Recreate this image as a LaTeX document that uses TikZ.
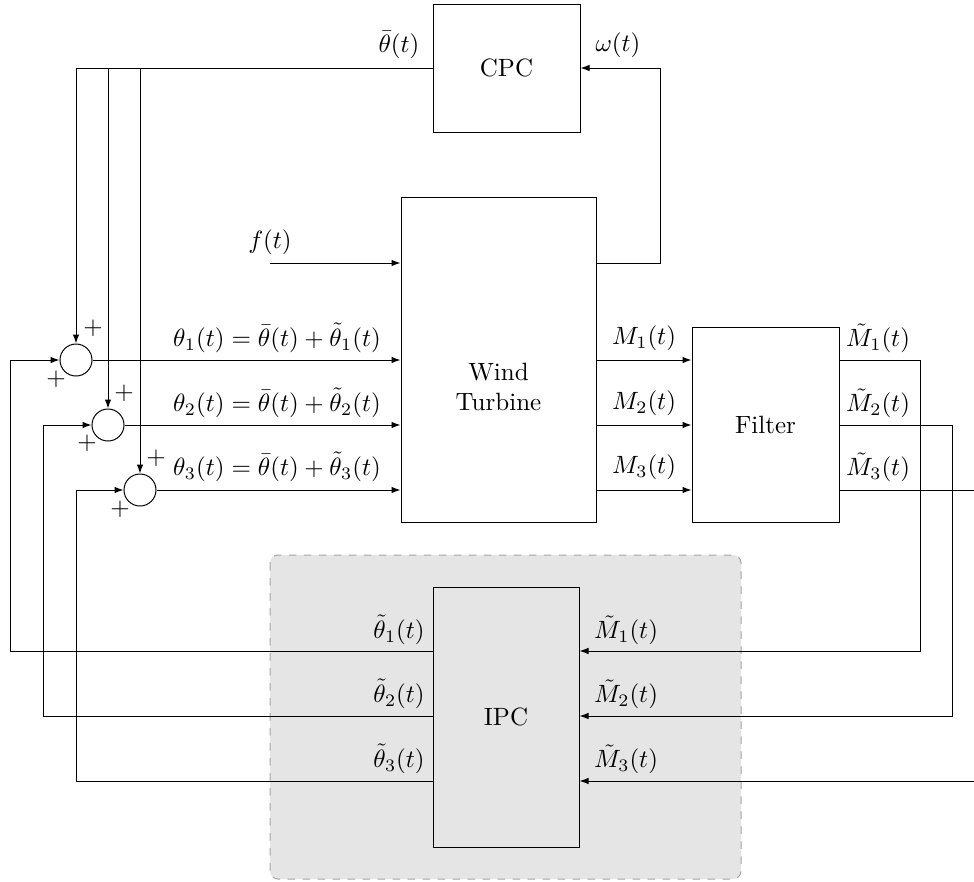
\documentclass[tikz,border=0pt]{standalone}
\usetikzlibrary{arrows.meta}
\begin{document}
\begin{tikzpicture}[x=0.4pt,y=-0.4pt,
  blk/.style={draw, inner sep=0pt},
  sumnode/.style={draw, circle, minimum size=12.8pt, inner sep=0pt},
  arr/.style={-{Latex[length=3.6pt,width=2.6pt]}},
  lbl/.style={inner sep=0pt},
  bgbox/.style={fill=black!10, draw=black!35, dashed, rounded corners=3.2pt}]
\useasboundingbox (0,0) rectangle (974,881);
% background of IPC
\path[bgbox] (270,555) rectangle (741,879);
% blocks
\node[blk, minimum width=58.8pt, minimum height=51.2pt] (cpc) at (506.5,68) {CPC};
\node[blk, minimum width=78pt, minimum height=130pt] (wt) at (498.5,359.5) {};
\node[lbl, align=center] (wtl) at (498.5,387) {Wind\\Turbine};
\node[blk, minimum width=58.8pt, minimum height=78pt] (flt) at (765.5,424.5) {Filter};
\node[blk, fill=black!10, minimum width=58.4pt, minimum height=104pt] (ipc) at (506,717) {IPC};
% sums
\node[sumnode] (s1) at (76,360) {};
\node[sumnode] (s2) at (108,425) {};
\node[sumnode] (s3) at (140,490) {};
% coordinates
\coordinate (fin) at (270,263);
\coordinate (wr) at (660,263);
\coordinate (e1) at (920,360);
\coordinate (e2) at (952,425);
\coordinate (e3) at (974,490);
\coordinate (e3b) at (974,781);
\coordinate (l1) at (10,651);
\coordinate (l2) at (43,716);
\coordinate (l3) at (76,781);
% CPC to sums
\draw[arr] (cpc.west) -| (s1.north);
\draw[arr] (cpc.west) -| (s2.north);
\draw[arr] (cpc.west) -| (s3.north);
% omega feedback
\draw[arr] (wt.east |- wr) -- (wr) |- (cpc.east);
% f(t)
\draw[arr] (fin) -- (fin -| wt.west);
% sums to WT
\draw[arr] (s1.east) -- (s1 -| wt.west);
\draw[arr] (s2.east) -- (s2 -| wt.west);
\draw[arr] (s3.east) -- (s3 -| wt.west);
% WT to filter
\draw[arr] (wt.east |- s1) -- (flt.west |- s1);
\draw[arr] (wt.east |- s2) -- (flt.west |- s2);
\draw[arr] (wt.east |- s3) -- (flt.west |- s3);
% filter to IPC
\draw[arr] (flt.east |- e1) -- (e1) |- (ipc.east |- l1);
\draw[arr] (flt.east |- e2) -- (e2) |- (ipc.east |- l2);
\draw (flt.east |- e3) -- (e3);
\draw[arr] (e3b) -- (ipc.east |- e3b);
% IPC to sums
\draw[arr] (ipc.west |- l1) -- (l1) |- (s1.west);
\draw[arr] (ipc.west |- l2) -- (l2) |- (s2.west);
\draw[arr] (ipc.west |- l3) -- (l3) |- (s3.west);
% labels
\node[lbl] (lthb) at (399,45) {$\bar{\theta}(t)$};
\node[lbl] (lom) at (618,45) {$\omega(t)$};
\node[lbl] (lf) at (270,242) {$f(t)$};
\node[lbl] (lt1) at (277,338) {$\theta_1(t) = \bar{\theta}(t) + \tilde{\theta}_1(t)$};
\node[lbl] (lt2) at (277,403) {$\theta_2(t) = \bar{\theta}(t) + \tilde{\theta}_2(t)$};
\node[lbl] (lt3) at (277,467) {$\theta_3(t) = \bar{\theta}(t) + \tilde{\theta}_3(t)$};
\node[lbl] (lm1) at (644,338) {$M_1(t)$};
\node[lbl] (lm2) at (644,403) {$M_2(t)$};
\node[lbl] (lm3) at (644,467) {$M_3(t)$};
\node[lbl] (lmt1) at (878,338) {$\tilde{M}_1(t)$};
\node[lbl] (lmt2) at (878,403) {$\tilde{M}_2(t)$};
\node[lbl] (lmt3) at (878,467) {$\tilde{M}_3(t)$};
\node[lbl] (lit1) at (399,630) {$\tilde{\theta}_1(t)$};
\node[lbl] (lit2) at (399,694) {$\tilde{\theta}_2(t)$};
\node[lbl] (lit3) at (399,759) {$\tilde{\theta}_3(t)$};
\node[lbl] (lim1) at (626,630) {$\tilde{M}_1(t)$};
\node[lbl] (lim2) at (626,694) {$\tilde{M}_2(t)$};
\node[lbl] (lim3) at (626,759) {$\tilde{M}_3(t)$};
% plus signs
\node[lbl] (p1a) at (93,328) {$+$};
\node[lbl] (p1b) at (56,379) {$+$};
\node[lbl] (p2a) at (124,393) {$+$};
\node[lbl] (p2b) at (87,443) {$+$};
\node[lbl] (p3a) at (156,458) {$+$};
\node[lbl] (p3b) at (120,509) {$+$};
\end{tikzpicture}
\end{document}
